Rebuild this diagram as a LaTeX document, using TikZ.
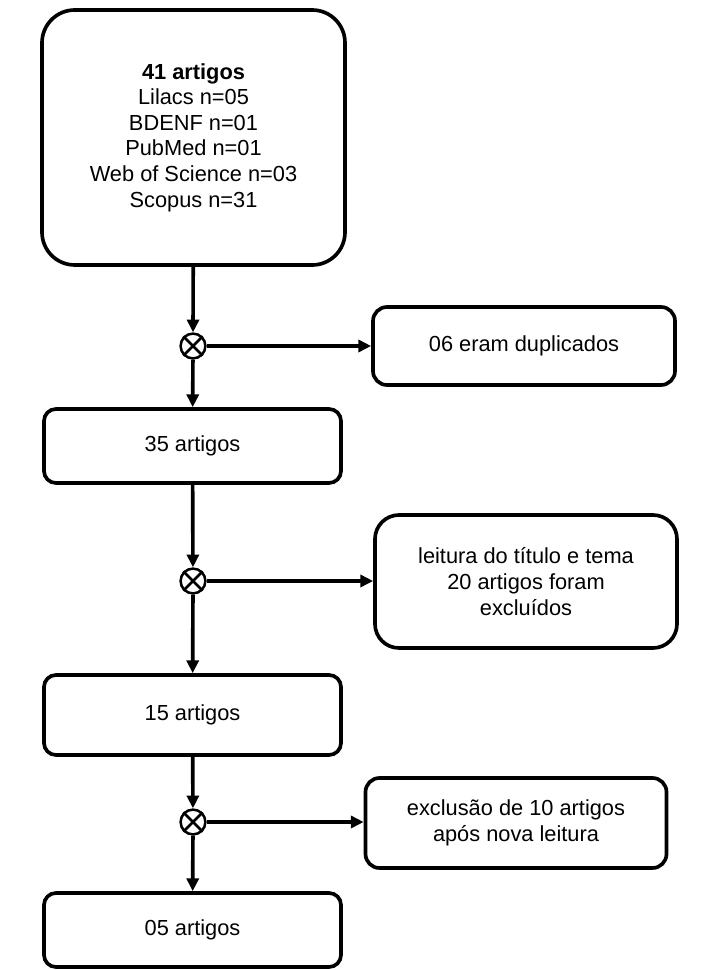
\documentclass[tikz,border=0pt]{standalone}
\usepackage{fontspec}
\setmainfont{Liberation Sans}
\usetikzlibrary{positioning, arrows.meta}
\tikzset{
  box/.style={rectangle, draw=black, line width=2.6pt, fill=white,
    align=center, inner sep=2pt, font=\fontsize{15.5}{18.2}\selectfont},
  leftbox/.style={box, rounded corners=0.3cm, minimum width=297*0.025cm, minimum height=76*0.025cm},
  sidebox/.style={box, rounded corners=0.35cm, minimum width=302*0.025cm},
  junction/.style={circle, draw=black, line width=1.8pt, fill=white, minimum size=0.62cm, inner sep=0pt},
  flow/.style={-{Triangle[length=3.2mm, width=3mm]}, line width=2.6pt},
}
\begin{document}
\begin{tikzpicture}[x=0.025cm, y=-0.025cm]
    \useasboundingbox (0,0) rectangle (707,970);
    \node[box, rounded corners=0.82cm, minimum width=303*0.025cm, minimum height=255*0.025cm] (src) at (193.5,137.5)
      {\textbf{41 artigos}\\Lilacs n=05\\BDENF n=01\\PubMed n=01\\Web of Science n=03\\Scopus n=31};
    \node[junction] (x1) at (193,346) {};
    \node[sidebox, minimum height=78*0.025cm] (dup) at (524,346) {06 eram duplicados};
    \node[leftbox, minimum height=74*0.025cm] (a35) at (192.5,446) {35 artigos};
    \node[junction] (x2) at (193,581) {};
    \node[sidebox, rounded corners=0.6cm, minimum height=133*0.025cm] (tit) at (526,581.5)
      {leitura do título e tema\\20 artigos foram\\excluídos};
    \node[leftbox, minimum height=80*0.025cm] (a15) at (192.5,715) {15 artigos};
    \node[junction] (x3) at (193,822) {};
    \node[sidebox, minimum width=301*0.025cm, minimum height=90*0.025cm] (exc) at (516,823)
      {exclusão de 10 artigos\\após nova leitura};
    \node[leftbox, minimum height=74*0.025cm] (a05) at (192.5,930) {05 artigos};
    % crosses in the junctions
    \foreach \j in {x1,x2,x3}{
      \draw[line width=1.8pt] (\j.north east)--(\j.south west) (\j.north west)--(\j.south east);
    }
    \draw[flow] (src)--(x1);\draw[flow] (x1)--(x1 -| dup.west);\draw[flow] (x1)--(a35);
    \draw[flow] (a35)--(x2);\draw[flow] (x2)--(x2 -| tit.west);\draw[flow] (x2)--(a15);
    \draw[flow] (a15)--(x3);\draw[flow] (x3)--(x3 -| exc.west);\draw[flow] (x3)--(a05);
  \end{tikzpicture}
\end{document}
